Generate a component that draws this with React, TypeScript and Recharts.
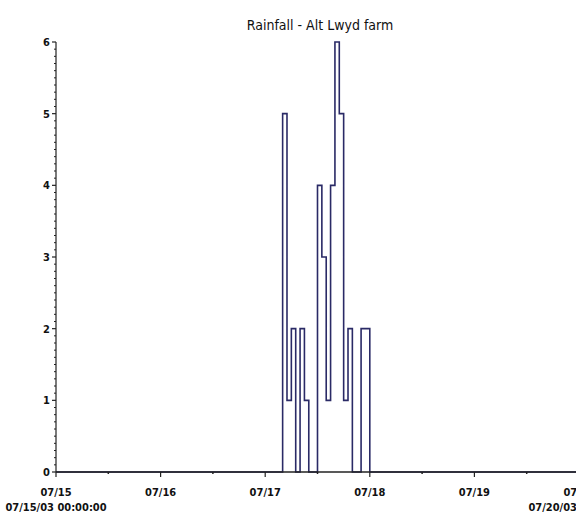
import React from 'react';
import { LineChart, Line, XAxis, YAxis } from 'recharts';

// hours counted from 07/15/03 00:00:00
const hours = [0, 52, 53, 54, 55, 56, 57, 58, 60, 61, 62, 63, 64, 65, 66, 67, 68, 70, 72, 120];
const rain = [0, 5, 1, 2, 0, 2, 1, 0, 4, 3, 1, 4, 6, 5, 1, 2, 0, 2, 0, 0];

const dayLabels = ['07/15', '07/16', '07/17', '07/18', '07/19', '07/20'];
const firstStamp = '07/15/03 00:00:00';
const lastStamp = '07/20/03 00:00:00';
const yLabels = [0, 1, 2, 3, 4, 5, 6];

const data = hours.map((t, i) => ({ t, rain: rain[i] }));

const xTicks: number[] = [];
for (let h = 0; h <= 120; h += 12) xTicks.push(h);
const yTicks: number[] = [];
for (let k = 0; k <= 60; k++) yTicks.push(k / 10);

const axisColor = '#222';
const lineColor = '#2a2a66';
const tickFont = "'Liberation Sans Narrow', 'DejaVu Sans Condensed', sans-serif";

const XTick = (props: any) => {
  const { x, y, payload } = props;
  const t = payload.value;
  if (t % 24 !== 0) {
    return <line x1={x} y1={y} x2={x} y2={y + 2} stroke={axisColor} strokeWidth={1.5} />;
  }
  const idx = t / 24;
  const stamp = idx === 0 ? firstStamp : idx === dayLabels.length - 1 ? lastStamp : null;
  return (
    <g>
      <line x1={x} y1={y} x2={x} y2={y + 5} stroke={axisColor} strokeWidth={1.2} />
      <text x={x} y={y + 24} textAnchor="middle" fontSize={11} fontWeight="bold" fontFamily={tickFont} fill="#111">
        {dayLabels[idx]}
      </text>
      {stamp && (
        <text x={x} y={y + 39} textAnchor="middle" fontSize={11} fontWeight="bold" fontFamily={tickFont} fill="#111">
          {stamp}
        </text>
      )}
    </g>
  );
};

const YTick = (props: any) => {
  const { x, y, payload } = props;
  const v = Math.round(payload.value * 10);
  if (v % 10 !== 0) {
    return <line x1={x - 2} y1={y} x2={x} y2={y} stroke={axisColor} strokeWidth={1} />;
  }
  return (
    <g>
      <line x1={x - 4} y1={y} x2={x} y2={y} stroke={axisColor} strokeWidth={1.2} />
      <text x={x - 6} y={y + 4} textAnchor="end" fontSize={11} fontWeight="bold" fontFamily={tickFont} fill="#111">
        {yLabels[v / 10]}
      </text>
    </g>
  );
};

export default function App() {
  return (
    <div style={{ position: 'absolute', left: 0, top: 0, width: 576, height: 520, overflow: 'hidden', background: '#fff' }}>
      <div
        style={{
          position: 'absolute',
          left: 220,
          top: 17,
          width: 200,
          textAlign: 'center',
          fontFamily: tickFont,
          fontSize: 14,
          color: '#111',
        }}
      >
        Rainfall - Alt Lwyd farm
      </div>
      <LineChart width={600} height={520} data={data} margin={{ top: 42, right: 21, bottom: 0, left: 0 }}>
        <XAxis
          dataKey="t"
          type="number"
          domain={[0, 120]}
          ticks={xTicks}
          interval={0}
          tickSize={0}
          tickMargin={0}
          tickLine={false}
          tick={XTick}
          height={48}
          stroke={axisColor}
          strokeWidth={1.5}
        />
        <YAxis
          domain={[0, 6]}
          ticks={yTicks}
          interval={0}
          tickSize={0}
          tickMargin={0}
          tickLine={false}
          tick={YTick}
          width={56}
          stroke={axisColor}
          strokeWidth={1.2}
        />
        <Line
          type="stepAfter"
          dataKey="rain"
          stroke={lineColor}
          strokeWidth={1.6}
          dot={false}
          isAnimationActive={false}
        />
      </LineChart>
    </div>
  );
}
